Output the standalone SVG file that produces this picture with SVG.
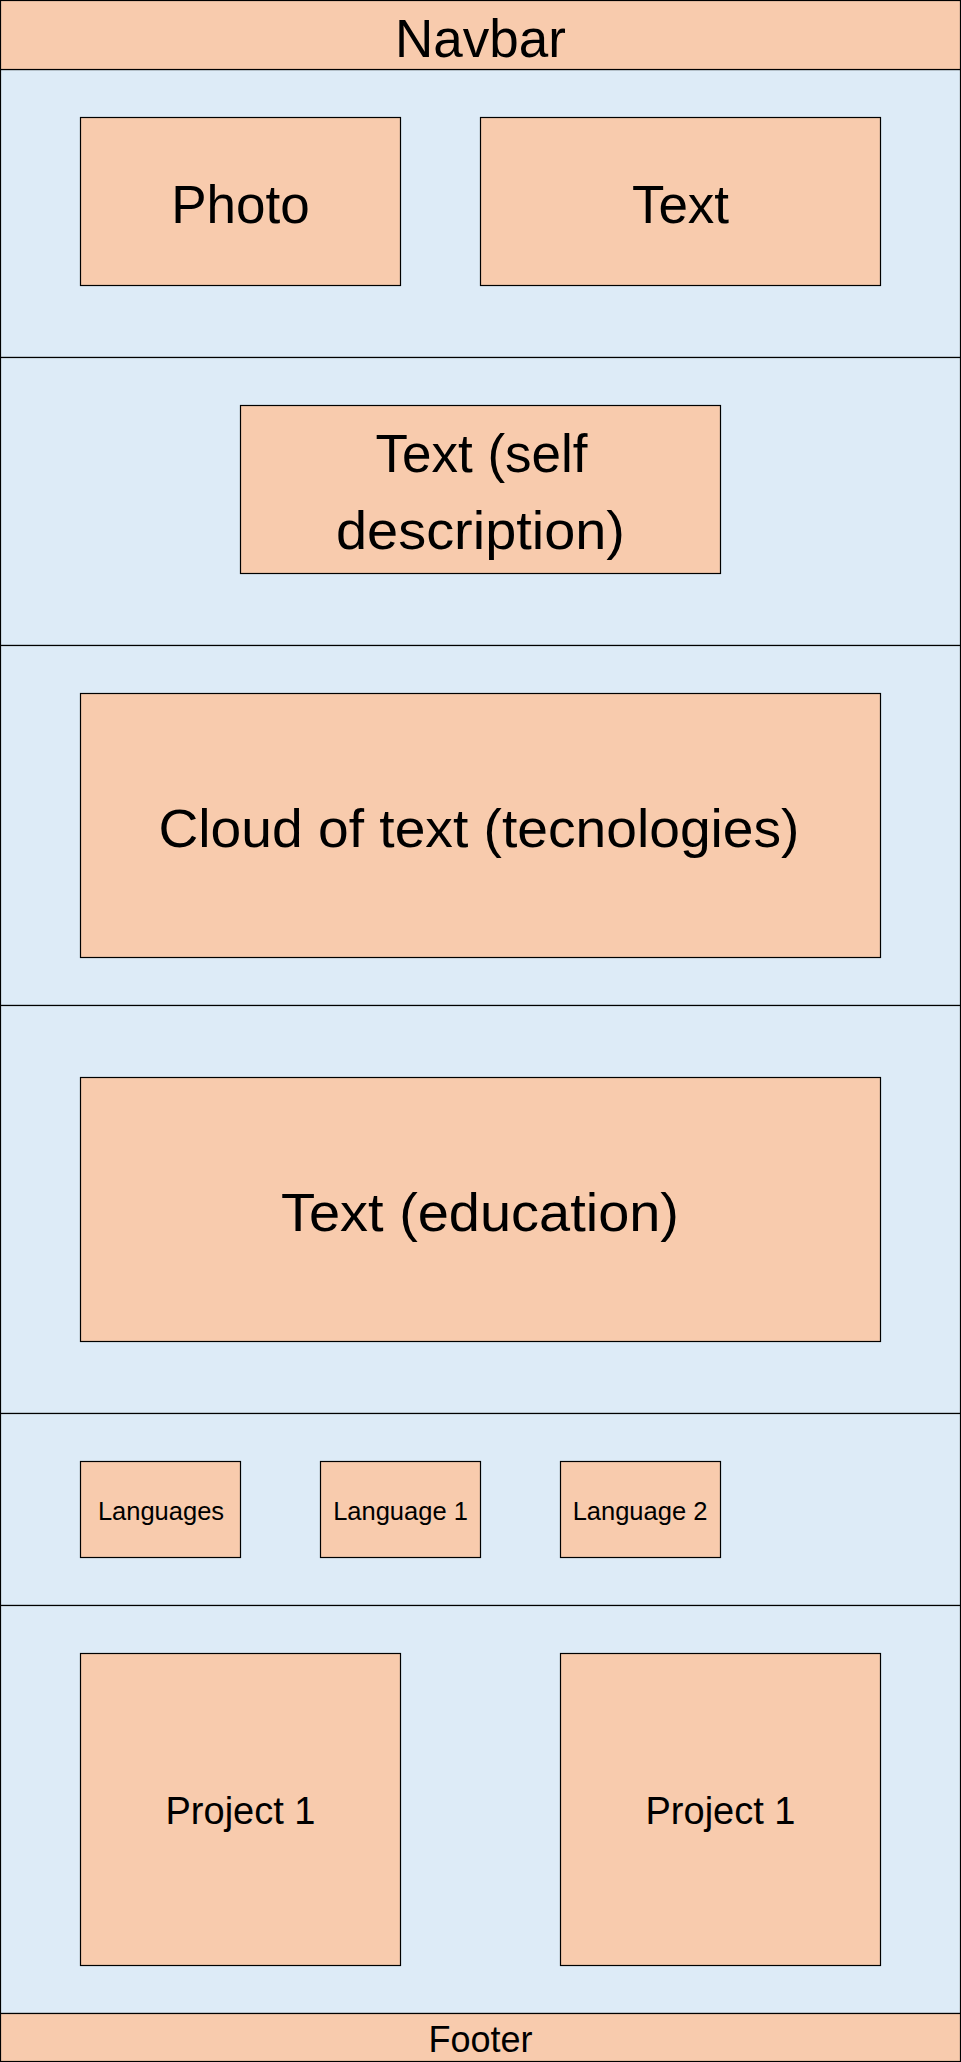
<svg xmlns="http://www.w3.org/2000/svg" width="961" height="2062" viewBox="0 0 961 2062">
  <style>
    .sec { fill: #DDEBF7; stroke: #000; stroke-width: 1.2; }
    .box { fill: #F8CBAD; stroke: #000; stroke-width: 1.2; }
    .lbl { font-family: "Liberation Sans", Arial, sans-serif; fill: #000; text-anchor: middle; }
    .xl { font-size: 53px; }
    .md { font-size: 38px; }
    .ft { font-size: 36px; }
    .sm { font-size: 25.5px; }
  </style>
  <rect x="0" y="0" width="961" height="2062" fill="#FFFFFF"/>
  <g id="sections">
    <rect class="sec" x="0.5" y="69.5" width="960" height="288"/>
    <rect class="sec" x="0.5" y="357.5" width="960" height="288"/>
    <rect class="sec" x="0.5" y="645.5" width="960" height="360"/>
    <rect class="sec" x="0.5" y="1005.5" width="960" height="408"/>
    <rect class="sec" x="0.5" y="1413.5" width="960" height="192"/>
    <rect class="sec" x="0.5" y="1605.5" width="960" height="408"/>
  </g>
  <g id="navbar">
    <rect class="box" x="0.5" y="0.5" width="960" height="69"/>
    <text class="lbl xl" x="480.5" y="57">Navbar</text>
  </g>
  <g id="photo">
    <rect class="box" x="80.5" y="117.5" width="320" height="168"/>
    <text class="lbl xl" x="240.5" y="222.5">Photo</text>
  </g>
  <g id="text">
    <rect class="box" x="480.5" y="117.5" width="400" height="168"/>
    <text class="lbl xl" x="680.5" y="222.5">Text</text>
  </g>
  <g id="self-description">
    <rect class="box" x="240.5" y="405.5" width="480" height="168"/>
    <text class="lbl xl" x="481.5" y="472">Text (self</text>
    <text class="lbl xl" x="480.5" y="548.5" textLength="289" lengthAdjust="spacingAndGlyphs">description)</text>
  </g>
  <g id="technologies">
    <rect class="box" x="80.5" y="693.5" width="800" height="264"/>
    <text class="lbl xl" x="479" y="846.5" textLength="641" lengthAdjust="spacingAndGlyphs">Cloud of text (tecnologies)</text>
  </g>
  <g id="education">
    <rect class="box" x="80.5" y="1077.5" width="800" height="264"/>
    <text class="lbl xl" x="480" y="1230.5" textLength="398" lengthAdjust="spacingAndGlyphs">Text (education)</text>
  </g>
  <g id="languages">
    <rect class="box" x="80.5" y="1461.5" width="160" height="96"/>
    <text class="lbl sm" x="161" y="1520">Languages</text>
  </g>
  <g id="language-1">
    <rect class="box" x="320.5" y="1461.5" width="160" height="96"/>
    <text class="lbl sm" x="400.5" y="1520">Language 1</text>
  </g>
  <g id="language-2">
    <rect class="box" x="560.5" y="1461.5" width="160" height="96"/>
    <text class="lbl sm" x="640" y="1520">Language 2</text>
  </g>
  <g id="project-1a">
    <rect class="box" x="80.5" y="1653.5" width="320" height="312"/>
    <text class="lbl md" x="240.5" y="1823.5">Project 1</text>
  </g>
  <g id="project-1b">
    <rect class="box" x="560.5" y="1653.5" width="320" height="312"/>
    <text class="lbl md" x="720.5" y="1823.5">Project 1</text>
  </g>
  <g id="footer">
    <rect class="box" x="0.5" y="2013.5" width="960" height="48"/>
    <text class="lbl ft" x="480.5" y="2052">Footer</text>
  </g>
  <g id="connectors"/>
</svg>
